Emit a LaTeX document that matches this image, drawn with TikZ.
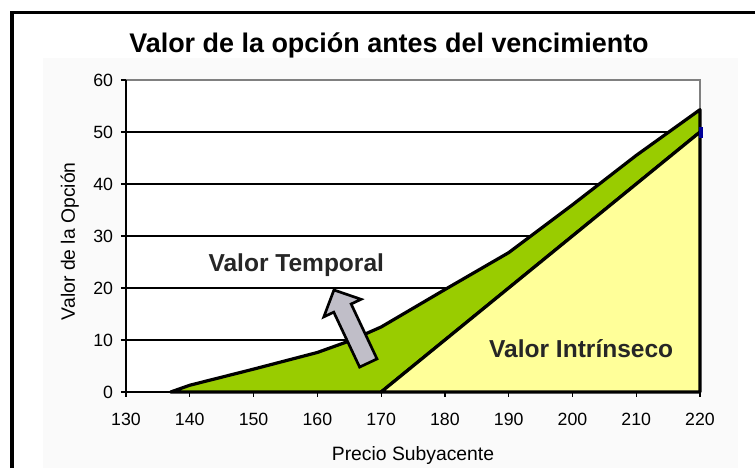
\documentclass[tikz,border=0pt]{standalone}
\usepackage{fontspec}
\setmainfont{Liberation Sans}
\definecolor{lime}{RGB}{153,204,0}
\definecolor{paleyellow}{RGB}{255,255,153}
\definecolor{arrowgray}{RGB}{192,190,200}
\definecolor{chartbg}{RGB}{250,250,250}
\begin{document}
\begin{tikzpicture}[x=0.75pt,y=0.75pt,
        curve/.style={line width=2.4pt, line join=round},
        gridline/.style={line width=0.8pt},
        ticklabel/.style={font=\fontsize{13.3}{13.3}\selectfont, inner sep=0pt},
        axistitle/.style={font=\fontsize{14.5}{14.5}\selectfont, inner sep=0pt},
        zonelabel/.style={font=\fontsize{18.4}{18.4}\selectfont\bfseries, text=black!85, inner sep=0pt}]
        \useasboundingbox (0,0) rectangle (755,468);
        \fill[chartbg] (43,0) rectangle (738,410);
        \draw[line width=2.4pt] (12,0) -- (12,455.5) -- (755,455.5);
        \node[font=\fontsize{20.2}{20.2}\selectfont\bfseries, anchor=base, inner sep=0pt] (title) at (389,415) {Valor de la opción antes del vencimiento};
        \begin{scope}[shift={(126,76)}, x=4.7835pt, y=3.9pt, shift={(-130,0)}]
        \fill[white] (130,0) rectangle (220,60);
        \foreach \v in {10,20,...,50}
            \draw[gridline] (130,\v) -- (220,\v);
        \draw[gray, line width=1.5pt] (130,60) -- (220,60) -- (220,0);
        \draw[curve, fill=lime] (137,0) -- (140,1.3) -- (150,4.4) -- (160,7.6) -- (165,9.8) -- (170,12.5)
            -- (180,19.7) -- (190,26.8) -- (200,36) -- (210,45.5) -- (220,54.3) -- (220,50) -- (170,0) -- cycle;
        \draw[curve, fill=paleyellow] (170,0) -- (220,50) -- (220,0) -- cycle;
        \fill[blue!60!black] (219.9,48.8) rectangle (220.5,51);
        % axes
        \draw[line width=1.2pt] (130,60) -- (130,0) -- (220,0);
        \foreach \v in {0,10,...,60} {
            \draw[line width=0.9pt] (129.2,\v) -- (130,\v);
            \node[ticklabel, anchor=east] (y\v) at (128,\v) {\v};
        }
        \foreach \s in {130,140,...,220} {
            \draw[line width=0.9pt] (\s,0) -- (\s,-1);
            \node[ticklabel, anchor=base] (x\s) at (\s,-6.5) {\s};
        }
        \node[axistitle, anchor=base] (xtitle) at (175,-13.1) {Precio Subyacente};
        \node[axistitle, anchor=base, rotate=90] (ytitle) at (122,29) {Valor de la Opción};
        \node[zonelabel, anchor=base west] (temporal) at (142.9,23.1) {Valor Temporal};
        \node[zonelabel, anchor=base west] (intrinseco) at (186.9,6.7) {Valor Intrínseco};
        \end{scope}
        % block arrow
        \begin{scope}[shift={(368.3,105)}, rotate=115.2]
        \draw[fill=arrowgray, line width=2pt, line join=miter] (0,-9.6) -- (60.7,-9.6) -- (60.7,-20.6) -- (80.7,0)
            -- (60.7,20.6) -- (60.7,9.6) -- (0,9.6) -- cycle;
        \end{scope}
    \end{tikzpicture}
\end{document}
